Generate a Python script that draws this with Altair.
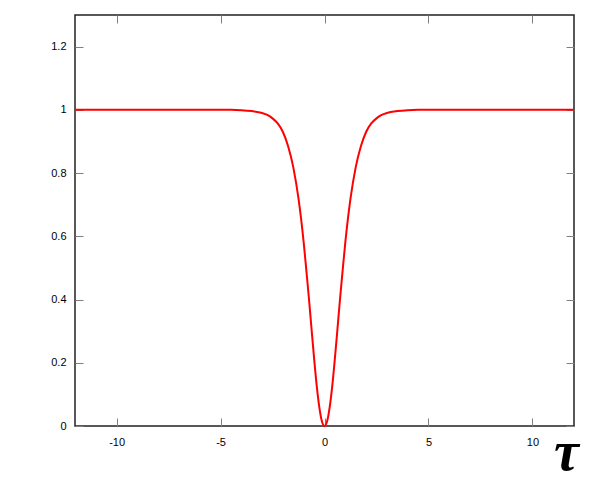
import altair as alt
import pandas as pd

# values
tau = [-12, -6, -4.5, -4, -3.5, -3, -2.75, -2.5, -2.25, -2, -1.75, -1.5, -1.25, -1,
       -0.875, -0.75, -0.625, -0.5, -0.375, -0.25, -0.125, 0,
       0.125, 0.25, 0.375, 0.5, 0.625, 0.75, 0.875,
       1, 1.25, 1.5, 1.75, 2, 2.25, 2.5, 2.75, 3, 3.5, 4, 4.5, 6, 12]
val = [1, 1, 1, 0.999, 0.996, 0.99, 0.984, 0.973, 0.957, 0.93, 0.885, 0.818, 0.719, 0.58,
       0.494, 0.404, 0.308, 0.214, 0.128, 0.06, 0.015, 0,
       0.015, 0.06, 0.128, 0.214, 0.308, 0.404, 0.494,
       0.58, 0.719, 0.818, 0.885, 0.93, 0.957, 0.973, 0.984, 0.99, 0.996, 0.999, 1, 1, 1]
x_ticks = [-10, -5, 0, 5, 10]
y_ticks = [0, 0.2, 0.4, 0.6, 0.8, 1, 1.2]

df = pd.DataFrame({"tau": tau, "val": val})

FONT = "Liberation Sans"
TICK = "#808080"

xs = alt.Scale(domain=[-12, 12], nice=False, zero=False)
ys = alt.Scale(domain=[0, 1.3], nice=False, zero=False)

base = alt.Chart(df)

main = base.mark_line(color="#ff0000", strokeWidth=2, interpolate="monotone").encode(
    x=alt.X("tau:Q", scale=xs, axis=alt.Axis(
        orient="bottom", offset=-8, tickSize=8, tickColor=TICK, tickWidth=1,
        domain=False, grid=False, values=x_ticks, labelExpr="'' + datum.value",
        labelFont=FONT, labelFontSize=11, labelColor="black", labelPadding=10,
        title="τ", titleFont="Liberation Serif", titleFontWeight="bold",
        titleFontStyle="italic", titleFontSize=56,
        titleColor="black", titleX=491, titleY=51, titleAlign="center",
        titleBaseline="alphabetic")),
    y=alt.Y("val:Q", scale=ys, axis=alt.Axis(
        orient="left", offset=-8, tickSize=8, tickColor=TICK, tickWidth=1,
        domain=False, grid=False, values=y_ticks, format=".1~f",
        labelFont=FONT, labelFontSize=11, labelColor="black", labelPadding=9,
        title=None)),
)

mirror = base.mark_line(strokeOpacity=0).encode(
    x=alt.X("tau:Q", scale=xs, axis=alt.Axis(
        orient="top", offset=-8, tickSize=8, tickColor=TICK, tickWidth=1,
        domain=False, grid=False, values=x_ticks, labels=False, title=None)),
    y=alt.Y("val:Q", scale=ys, axis=alt.Axis(
        orient="right", offset=-8, tickSize=8, tickColor=TICK, tickWidth=1,
        domain=False, grid=False, values=y_ticks, labels=False, title=None)),
)

chart = alt.layer(mirror, main).resolve_axis(x="independent", y="independent").properties(
    width=499, height=411,
    autosize=alt.AutoSizeParams(type="none"),
    padding={"left": 67, "top": 7, "right": 18, "bottom": 50},
    background="white",
).configure_view(stroke="#222222", strokeWidth=1.5)

chart.save("out.html", embed_options={"renderer": "svg", "actions": False})
